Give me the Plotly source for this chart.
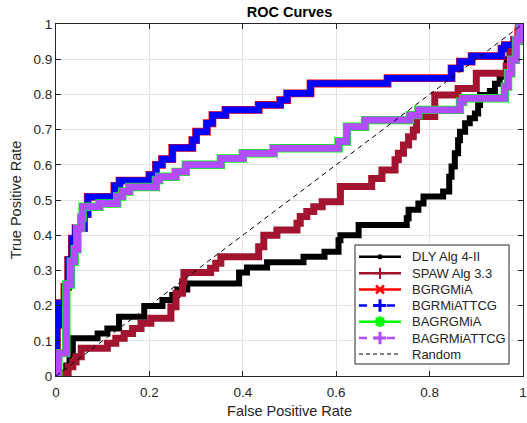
import plotly.graph_objects as go

# ---- ROC points (false positive rate, true positive rate), step corners ----
dly_fpr = [0, 0.015, 0.022, 0.029, 0.036, 0.089, 0.11, 0.135, 0.189, 0.228, 0.249, 0.26, 0.281,
           0.392, 0.409, 0.452, 0.53, 0.575, 0.605, 0.609, 0.648, 0.751, 0.755, 0.776, 0.787,
           0.829, 0.842, 0.847, 0.854, 0.861, 0.865, 0.876, 0.886, 0.897, 0.904, 0.908, 0.929,
           0.94, 0.95, 0.965, 0.98, 1.0]
dly_tpr = [0, 0.01, 0.03, 0.064, 0.107, 0.121, 0.135, 0.168, 0.199, 0.216, 0.23, 0.246, 0.263,
           0.294, 0.308, 0.323, 0.339, 0.353, 0.386, 0.4, 0.429, 0.448, 0.472, 0.49, 0.51,
           0.524, 0.566, 0.595, 0.633, 0.67, 0.694, 0.718, 0.732, 0.746, 0.77, 0.798, 0.81,
           0.83, 0.85, 0.9, 0.95, 1.0]

spaw_fpr = [0, 0.015, 0.026, 0.036, 0.043, 0.054, 0.11, 0.128, 0.146, 0.164, 0.182, 0.203,
            0.246, 0.257, 0.271, 0.274, 0.331, 0.342, 0.353, 0.434, 0.445, 0.473, 0.516, 0.523,
            0.537, 0.552, 0.57, 0.609, 0.676, 0.698, 0.726, 0.733, 0.744, 0.755, 0.765, 0.772,
            0.811, 0.861, 0.9, 0.964, 0.972, 0.98, 0.99, 1.0]
spaw_tpr = [0, 0.01, 0.026, 0.04, 0.055, 0.079, 0.093, 0.107, 0.121, 0.135, 0.15, 0.164,
            0.197, 0.235, 0.268, 0.294, 0.306, 0.32, 0.339, 0.367, 0.4, 0.415, 0.434, 0.453,
            0.467, 0.481, 0.495, 0.538, 0.561, 0.585, 0.614, 0.633, 0.656, 0.68, 0.699, 0.737,
            0.798, 0.817, 0.86, 0.88, 0.92, 0.955, 1.0, 1.0]

# BGRGMiA and BGRMiATTCG give the same curve
bg_fpr = [0, 0.002, 0.006, 0.018, 0.026, 0.034, 0.042, 0.06, 0.068, 0.125, 0.136, 0.2, 0.214,
          0.227, 0.249, 0.292, 0.3, 0.323, 0.335, 0.363, 0.434, 0.48, 0.495, 0.545, 0.71,
          0.847, 0.865, 0.89, 0.954, 0.961, 0.982, 0.99, 1.0]
bg_tpr = [0, 0.145, 0.207, 0.253, 0.33, 0.39, 0.42, 0.46, 0.509, 0.54, 0.555, 0.571, 0.6,
          0.616, 0.648, 0.67, 0.694, 0.718, 0.741, 0.756, 0.77, 0.784, 0.803, 0.831, 0.846,
          0.874, 0.893, 0.909, 0.93, 0.94, 0.955, 0.98, 1.0]

# BAGRGMiA and BAGRMiATTCG give the same curve
bag_fpr = [0, 0.005, 0.022, 0.032, 0.04, 0.046, 0.054, 0.057, 0.093, 0.131, 0.142, 0.157,
           0.214, 0.221, 0.256, 0.278, 0.353, 0.4, 0.466, 0.605, 0.623, 0.662, 0.758, 0.776,
           0.865, 0.872, 0.961, 0.968, 0.975, 0.985, 0.993, 1.0]
bag_tpr = [0, 0.065, 0.26, 0.325, 0.36, 0.42, 0.45, 0.481, 0.49, 0.51, 0.524, 0.537,
           0.557, 0.566, 0.58, 0.6, 0.618, 0.633, 0.647, 0.666, 0.708, 0.727, 0.741, 0.756,
           0.779, 0.789, 0.822, 0.86, 0.898, 0.955, 1.0, 1.0]

series_names = ["DLY Alg 4-II", "SPAW Alg 3.3", "BGRGMiA", "BGRMiATTCG",
                "BAGRGMiA", "BAGRMiATTCG", "Random"]
x_ticks = [0, 0.2, 0.4, 0.6, 0.8, 1.0]
x_tick_text = ["0", "0.2", "0.4", "0.6", "0.8", "1"]
y_ticks = [0, 0.1, 0.2, 0.3, 0.4, 0.5, 0.6, 0.7, 0.8, 0.9, 1.0]
y_tick_text = ["0", "0.1", "0.2", "0.3", "0.4", "0.5", "0.6", "0.7", "0.8", "0.9", "1"]

FONT = "Liberation Sans, Arial, Helvetica, sans-serif"
AX = "#262626"
CRIMSON = "#A2142F"
PURPLE = "#B24DFF"

# canvas geometry (pixels)
W, H = 527, 423
ML, MR, MT, MB = 56, 4, 24, 47
PW, PH = W - ML - MR, H - MT - MB

# densely marked curves render as thick bands
styles = [
    dict(x=dly_fpr, y=dly_tpr, color="black", width=6),
    dict(x=spaw_fpr, y=spaw_tpr, color=CRIMSON, width=7),
    dict(x=bg_fpr, y=bg_tpr, color="#FF0000", width=7.8),
    dict(x=bg_fpr, y=bg_tpr, color="#0000FF", width=6.6),
    dict(x=bag_fpr, y=bag_tpr, color="#00FF00", width=8.4),
    dict(x=bag_fpr, y=bag_tpr, color=PURPLE, width=7),
]

fig = go.Figure()
for name, st in zip(series_names[:-1], styles):
    fig.add_trace(go.Scatter(
        x=st["x"], y=st["y"], name=name, mode="lines",
        line=dict(color=st["color"], width=st["width"], shape="hv"),
        showlegend=False, xaxis="x", yaxis="y"))

fig.add_trace(go.Scatter(x=[0, 1], y=[0, 1], name="Random", mode="lines",
                         line=dict(color="black", width=1, dash="5px,4px"),
                         showlegend=False, xaxis="x", yaxis="y"))

# ---- legend drawn in its own pixel-unit axes ----
LX0, LX1, LY0, LY1 = 355, 509, 245, 364
pad = 2
lg_dom_x = [(LX0 - pad - ML) / PW, (LX1 + pad - ML) / PW]
lg_dom_y = [(MT + PH - (LY1 + pad)) / PH, (MT + PH - (LY0 - pad)) / PH]

fig.add_trace(go.Scatter(
    x=[LX0, LX1, LX1, LX0, LX0], y=[LY0, LY0, LY1, LY1, LY0], mode="lines",
    fill="toself", fillcolor="white", line=dict(color=AX, width=1),
    showlegend=False, hoverinfo="skip", xaxis="x2", yaxis="y2"))

legend_styles = [
    dict(color="black", dash="solid", sym="circle", size=5, mw=0),
    dict(color=CRIMSON, dash="solid", sym="cross-thin", size=8, mw=2),
    dict(color="#FF0000", dash="solid", sym="x-thin", size=8, mw=2.5),
    dict(color="#0000FF", dash="8px,6px", sym="cross-thin", size=9, mw=3),
    dict(color="#00FF00", dash="solid", sym="asterisk-open", size=9, mw=3),
    dict(color=PURPLE, dash="8px,6px", sym="cross-thin", size=9, mw=3),
    dict(color="black", dash="4px,3px", sym=None, size=0, mw=0),
]
row_y = [256.7, 273.3, 289.5, 305.5, 321.7, 338.0, 354.0]
for i, (name, ls) in enumerate(zip(series_names, legend_styles)):
    y = row_y[i]
    lw = 1 if name == "Random" else 2.5
    fig.add_trace(go.Scatter(
        x=[359, 401], y=[y, y], mode="lines",
        line=dict(color=ls["color"], width=lw, dash=ls["dash"]),
        showlegend=False, hoverinfo="skip", xaxis="x2", yaxis="y2"))
    if ls["sym"]:
        fig.add_trace(go.Scatter(
            x=[380], y=[y], mode="markers",
            marker=dict(symbol=ls["sym"], size=ls["size"], color=ls["color"],
                        line=dict(color=ls["color"], width=ls["mw"])),
            showlegend=False, hoverinfo="skip", xaxis="x2", yaxis="y2"))
    fig.add_annotation(x=410, y=y, xref="x2", yref="y2", text=name, showarrow=False,
                       xanchor="left", yanchor="middle",
                       font=dict(family=FONT, size=13, color=AX))

axis_common = dict(showgrid=True, gridcolor="#E3E3E3", gridwidth=1, zeroline=False,
                   showline=True, linecolor=AX, linewidth=1, mirror="ticks",
                   ticks="inside", ticklen=5, tickcolor=AX, tickwidth=1,
                   ticklabeloverflow="allow", automargin=False,
                   tickfont=dict(family=FONT, size=13.5, color=AX))

fig.update_layout(
    width=W, height=H,
    margin=dict(l=ML, r=MR, t=MT, b=MB, pad=0, autoexpand=False),
    paper_bgcolor="white", plot_bgcolor="white",
    title=dict(text="<b>ROC Curves</b>", x=0.5, xref="paper", xanchor="center",
               y=1 - 12 / H, yref="container", yanchor="middle",
               font=dict(family=FONT, size=14.5, color="black")),
    xaxis=dict(range=[0, 1], tickvals=x_ticks, ticktext=x_tick_text,
               ticklabelstandoff=4,
               title=dict(text="False Positive Rate", standoff=6,
                          font=dict(family=FONT, size=14.5, color=AX)),
               domain=[0, 1], **axis_common),
    yaxis=dict(range=[0, 1], tickvals=y_ticks, ticktext=y_tick_text,
               title=dict(text="True Positive Rate", standoff=8,
                          font=dict(family=FONT, size=14.5, color=AX)),
               domain=[0, 1], **axis_common),
    xaxis2=dict(domain=lg_dom_x, range=[LX0 - pad, LX1 + pad], visible=False,
                anchor="y2", fixedrange=True),
    yaxis2=dict(domain=lg_dom_y, range=[LY1 + pad, LY0 - pad], visible=False,
                anchor="x2", fixedrange=True),
    showlegend=False,
)

fig.write_html("out.html")
